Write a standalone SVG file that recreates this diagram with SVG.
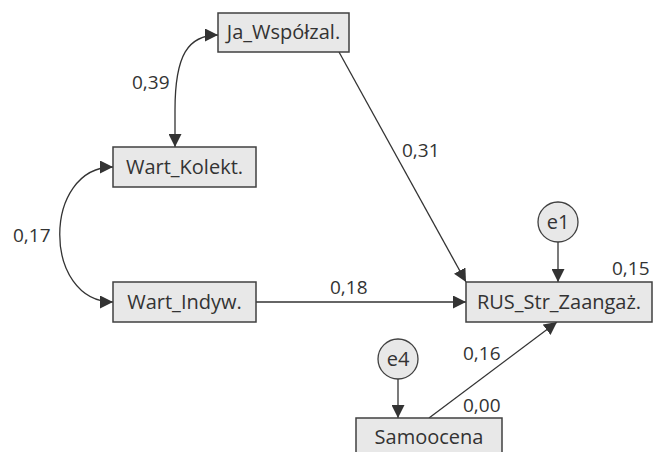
<svg xmlns="http://www.w3.org/2000/svg" width="663" height="452" viewBox="0 0 663 452">
<defs>
<style>
.box{fill:#e8e8e8;stroke:#404040;stroke-width:1.5}
.lat{fill:#e8e8e8;stroke:#404040;stroke-width:1.3}
.t{font-family:"Open Sans","DejaVu Sans",sans-serif;font-size:20px;fill:#333;text-anchor:middle}
.lbl{font-family:"Open Sans","DejaVu Sans",sans-serif;font-size:19px;fill:#333}
.c{fill:none;stroke:#333;stroke-width:1.3}
</style>
<marker id="ah" viewBox="0 0 10 10" refX="10" refY="5" markerWidth="13" markerHeight="13" markerUnits="userSpaceOnUse" orient="auto-start-reverse">
<path d="M0,0 L10,5 L0,10 z" fill="#333"/>
</marker>
</defs>
<rect width="663" height="452" fill="#fff"/>
<g id="connectors">
<path class="c" d="M175,147 L175,110 C175,55 188,35 218,35" marker-start="url(#ah)" marker-end="url(#ah)"/>
<path class="c" d="M113,167 C42,167 42,302 113,302" marker-start="url(#ah)" marker-end="url(#ah)"/>
<path class="c" d="M339,52 L466,282" marker-end="url(#ah)"/>
<path class="c" d="M256,302 L466,302" marker-end="url(#ah)"/>
<path class="c" d="M558,242 L558,282" marker-end="url(#ah)"/>
<path class="c" d="M429,418 L557,322" marker-end="url(#ah)"/>
<path class="c" d="M398,379 L398,418" marker-end="url(#ah)"/>
</g>
<g id="labels">
<text class="lbl" x="132" y="89">0,39</text>
<text class="lbl" x="13" y="242">0,17</text>
<text class="lbl" x="402" y="157">0,31</text>
<text class="lbl" x="330" y="294">0,18</text>
<text class="lbl" x="612" y="275">0,15</text>
<text class="lbl" x="463" y="360">0,16</text>
<text class="lbl" x="463" y="412">0,00</text>
</g>
<g id="ja">
<rect class="box" x="218" y="13" width="131" height="39"/>
<text class="t" x="283.5" y="39">Ja_Współzal.</text>
</g>
<g id="kolekt">
<rect class="box" x="113" y="147" width="143" height="40"/>
<text class="t" x="184.5" y="174">Wart_Kolekt.</text>
</g>
<g id="indyw">
<rect class="box" x="113" y="282" width="143" height="40"/>
<text class="t" x="184.5" y="309">Wart_Indyw.</text>
</g>
<g id="rus">
<rect class="box" x="466" y="282" width="186" height="40"/>
<text class="t" x="559" y="309">RUS_Str_Zaangaż.</text>
</g>
<g id="e1">
<circle class="lat" cx="558" cy="222" r="20"/>
<text class="t" x="558" y="229">e1</text>
</g>
<g id="e4">
<circle class="lat" cx="398" cy="359" r="20"/>
<text class="t" x="398" y="366">e4</text>
</g>
<g id="samoocena">
<rect class="box" x="356" y="418" width="146" height="40"/>
<text class="t" x="429" y="444">Samoocena</text>
</g>
</svg>
